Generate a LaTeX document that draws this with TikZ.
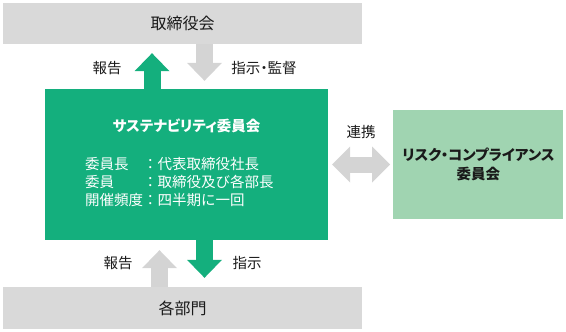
\documentclass[tikz,border=0pt]{standalone}
\usepackage{fontspec}
\setmainfont{Noto Sans CJK JP}
\newfontfamily\propfont{Noto Sans CJK JP}[RawFeature=+palt]
\usepackage{xcolor}
\usepackage{tikz}
\usetikzlibrary{arrows.meta, positioning, calc}
\definecolor{sgreen}{HTML}{14AF7D}
\definecolor{lgreen}{HTML}{A0D4B1}
\definecolor{lgray}{HTML}{D9D9D9}
\definecolor{agray}{HTML}{D4D4D4}
\definecolor{txt}{HTML}{1A1A1A}

\begin{document}
\begin{tikzpicture}[x=1pt, y=-1pt,
    bar/.style={rectangle, fill=lgray, minimum width=359pt, minimum height=41pt, inner sep=0pt, text=txt, font=\fontsize{16}{19}\selectfont},
    mainbox/.style={rectangle, fill=sgreen, minimum width=283pt, minimum height=151pt, inner sep=0pt},
    riskbox/.style={rectangle, fill=lgreen, minimum width=170pt, minimum height=109pt, inner sep=0pt, align=center, text=txt, font=\propfont\bfseries\fontsize{14.5}{18.5}\selectfont},
    lbl/.style={text=txt, inner sep=0pt, font=\fontsize{14.5}{17}\selectfont},
    fat/.style={line width=17pt, -{Triangle[length=18pt, width=35pt, line width=0pt]}},
    fatboth/.style={line width=16pt, {Triangle[length=18pt, width=36pt, line width=0pt]}-{Triangle[length=18pt, width=36pt, line width=0pt]}}
]
\useasboundingbox (0,0) rectangle (566,332);
\node[bar] (board) at (182.5,23.5) {取締役会};
\node[mainbox] (susc) at (186.5,164.5) {};
\node[bar, minimum height=42pt] (depts) at (182.5,308) {各部門};
\node[riskbox, right=65pt of susc] (risk) {リスク・コンプライアンス\\委員会};

\node[white, font=\propfont\bfseries\fontsize{14.5}{17}\selectfont] (title) at (186.5,126) {サステナビリティ委員会};
\node[white, anchor=west, inner sep=0pt, font=\fontsize{14.5}{17.5}\selectfont] (info) at (85,184)
    {\begin{tabular}{@{}l@{}l@{}}委員長&：代表取締役社長\\委員&：取締役及び各部長\\開催頻度&：四半期に一回\end{tabular}};

\coordinate (repA) at ([xshift=-34.5pt]susc.north);
\coordinate (insA) at ([xshift=22pt]board.south);
\coordinate (insB) at ([xshift=18pt]susc.south);
\coordinate (repB) at ([xshift=-23pt]depts.north);

\draw[fat, sgreen, shorten >=9pt] (repA) -- (repA |- board.south);
\draw[fat, agray, shorten >=8pt] (insA) -- (insA |- susc.north);
\draw[fat, sgreen, shorten >=9pt] (insB) -- (insB |- depts.north);
\draw[fat, agray, shorten >=10pt] (repB) -- (repB |- susc.south);
\draw[fatboth, agray, shorten <=4pt, shorten >=3pt] (susc.east) -- (risk.west);

\node[lbl] (rep1) at (107,68) {報告};
\node[lbl, font=\propfont\fontsize{14.5}{17}\selectfont] (ins1) at (264,68) {指示・監督};
\node[lbl] (rep2) at (118,263) {報告};
\node[lbl] (ins2) at (247,263) {指示};
\node[lbl] (coop) at (361,132) {連携};
\end{tikzpicture}
\end{document}
